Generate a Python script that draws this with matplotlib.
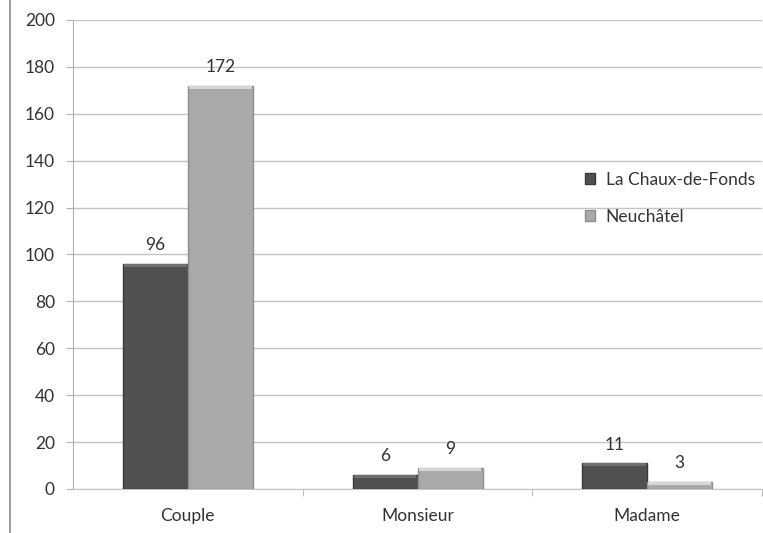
import numpy as np
import matplotlib.pyplot as plt

categories = ['Couple', 'Monsieur', 'Madame']
series_names = ['La Chaux-de-Fonds', 'Neuchâtel']
chaux_de_fonds = [96, 6, 11]
neuchatel = [172, 9, 3]
yticks = [0, 20, 40, 60, 80, 100, 120, 140, 160, 180, 200]

plt.rcParams['font.family'] = ['Lato', 'DejaVu Sans']
fs = 12.5

fig = plt.figure(figsize=(7.63, 5.33), dpi=100)
ax = fig.add_axes([0.0957, 0.0826, 0.903, 0.88])

# frame line on the left edge of the chart area
fig.add_artist(plt.Line2D([0.0135, 0.0135], [0, 1], color='#8c8c8c', lw=1.2))

x = np.arange(len(categories))
w = 0.283
colors = ['#505050', '#a9a9a9']
edges = ['#3a3a3a', '#8e8e8e']
tops = ['#707070', '#d6d6d6']

for i, (vals, name) in enumerate(zip([chaux_de_fonds, neuchatel], series_names)):
    pos = x + (i - 0.5) * w
    bars = ax.bar(pos, vals, width=w, color=colors[i], edgecolor=edges[i],
                  linewidth=1, label=name, zorder=3)
    # lighter bevel along the top of each bar
    for b, v in zip(bars, vals):
        h = min(v, 1.3)
        ax.bar(b.get_x() + b.get_width() / 2, h, width=w * 0.96,
               bottom=v - h, color=tops[i], linewidth=0, zorder=4)
        ax.text(b.get_x() + b.get_width() / 2, v + 4.5, str(v),
                ha='center', va='bottom', fontsize=fs, color='#333333', zorder=5)

ax.set_xlim(-0.5, 2.5)
ax.set_ylim(0, 200)
ax.set_yticks(yticks)
ax.set_xticks(x)
ax.set_xticklabels(categories, fontsize=fs, color='#333333')
ax.tick_params(axis='y', labelsize=fs, labelcolor='#333333', length=5,
               color='#b0b0b0', pad=8)
ax.tick_params(axis='x', length=0, pad=14)
ax.set_xticks([0.5, 1.5, 2.5], minor=True)
ax.tick_params(axis='x', which='minor', length=5, color='#b0b0b0')

ax.grid(axis='y', color='#c4c4c4', lw=1, zorder=0)
for side in ['top', 'right']:
    ax.spines[side].set_visible(False)
ax.spines['left'].set_color('#b0b0b0')
ax.spines['bottom'].set_color('#c4c4c4')

leg = ax.legend(loc='center left', bbox_to_anchor=(0.72, 0.62), frameon=False,
                fontsize=fs, handlelength=0.6, handleheight=0.6,
                handletextpad=0.6, labelspacing=1.2)
for t in leg.get_texts():
    t.set_color('#333333')

plt.savefig('out.png', dpi=100)
